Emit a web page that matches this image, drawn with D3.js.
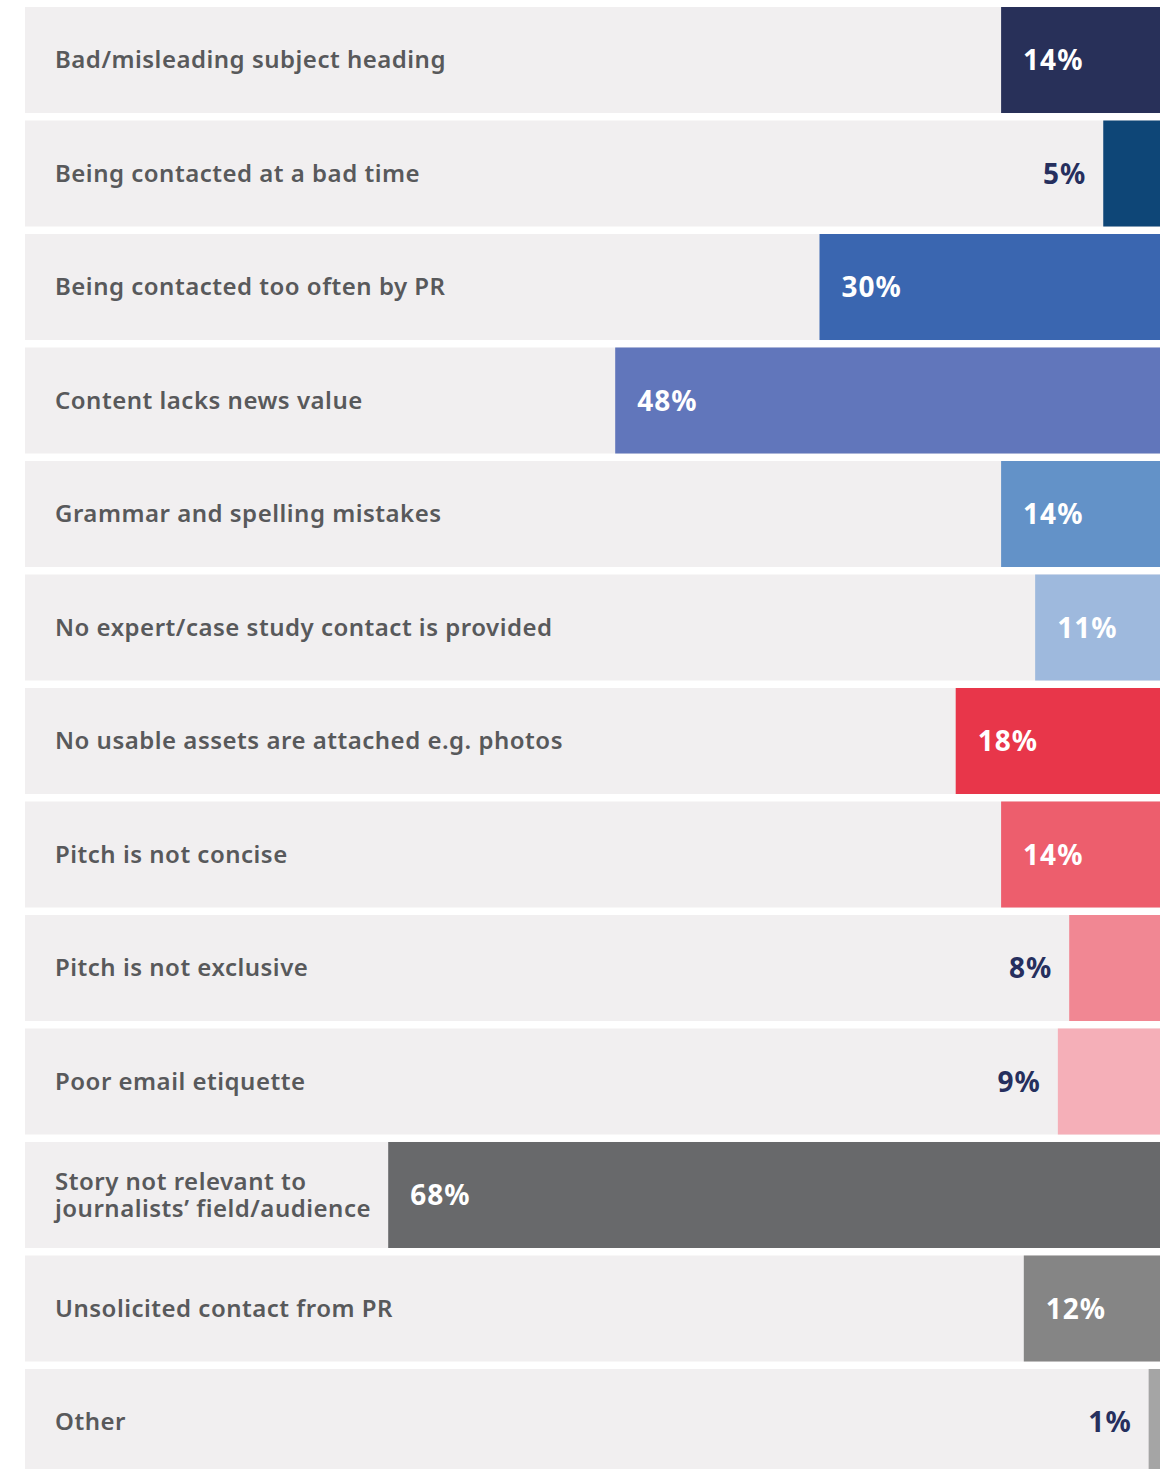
<!DOCTYPE html>
<head>
  <meta charset="utf-8">
  <style>
    body { margin: 0; background: #ffffff; }
    .label text { fill: #58595b; font-family: 'Noto Sans', sans-serif; font-weight: 600; font-size: 24px; letter-spacing: 0.5px; }
    .pct { font-family: 'Noto Sans', sans-serif; font-weight: 700; font-size: 28px; letter-spacing: 1px; }
  </style>
</head>
<body>
  <script src="https://cdn.jsdelivr.net/npm/d3@7"></script>
  <script>
    // data
    const categories = [
      "Bad/misleading subject heading",
      "Being contacted at a bad time",
      "Being contacted too often by PR",
      "Content lacks news value",
      "Grammar and spelling mistakes",
      "No expert/case study contact is provided",
      "No usable assets are attached e.g. photos",
      "Pitch is not concise",
      "Pitch is not exclusive",
      "Poor email etiquette",
      "Story not relevant to|journalists\u2019 field/audience",
      "Unsolicited contact from PR",
      "Other"
    ];
    const values = [14, 5, 30, 48, 14, 11, 18, 14, 8, 9, 68, 12, 1];
    const colors = ["#283059", "#0e4677", "#3a66b0", "#6176bb", "#6392c8", "#9eb9dd",
                    "#e8364a", "#ed5e6d", "#f18793", "#f5afb8", "#68696b", "#858585", "#a5a5a5"];

    const width = 1174;
    const height = 1469;
    const left = 25, right = 1160;

    const svg = d3.select("body").append("svg")
      .attr("width", width)
      .attr("height", height);

    const xScale = d3.scaleLinear().domain([0, 100]).range([0, right - left]);
    const yScale = d3.scaleBand().domain(categories)
      .range([7, 1475])
      .paddingInner(0.066)
      .paddingOuter(0);

    const rows = svg.selectAll("g.row").data(categories).enter().append("g")
      .attr("class", "row")
      .attr("transform", d => "translate(0," + yScale(d) + ")");

    // background strip
    rows.append("rect")
      .attr("x", left)
      .attr("width", right - left)
      .attr("height", yScale.bandwidth())
      .attr("fill", "#f1eff0");

    // bars grow from the right edge
    rows.append("rect")
      .attr("x", (d, i) => right - xScale(values[i]))
      .attr("width", (d, i) => xScale(values[i]))
      .attr("height", yScale.bandwidth())
      .attr("fill", (d, i) => colors[i]);

    // category labels (| splits into two lines)
    const lab = rows.append("g").attr("class", "label")
      .append("text")
      .attr("x", 55)
      .attr("y", yScale.bandwidth() / 2);
    lab.each(function(d) {
      const lines = d.split("|");
      const t = d3.select(this);
      lines.forEach((ln, j) => {
        t.append("tspan")
          .attr("x", 55)
          .attr("dy", j == 0 ? (0.35 - (lines.length - 1) * 0.55) + "em" : "1.1em")
          .text(ln);
      });
    });

    // percentages: white inside wide bars, navy outside narrow ones
    rows.append("text")
      .attr("class", "pct")
      .attr("y", yScale.bandwidth() / 2)
      .attr("dy", "0.36em")
      .attr("x", (d, i) => values[i] >= 10 ? right - xScale(values[i]) + 22 : right - xScale(values[i]) - 17)
      .attr("text-anchor", (d, i) => values[i] >= 10 ? "start" : "end")
      .attr("fill", (d, i) => values[i] >= 10 ? "#ffffff" : "#262f5e")
      .text((d, i) => values[i] + "%");
  </script>
</body>
